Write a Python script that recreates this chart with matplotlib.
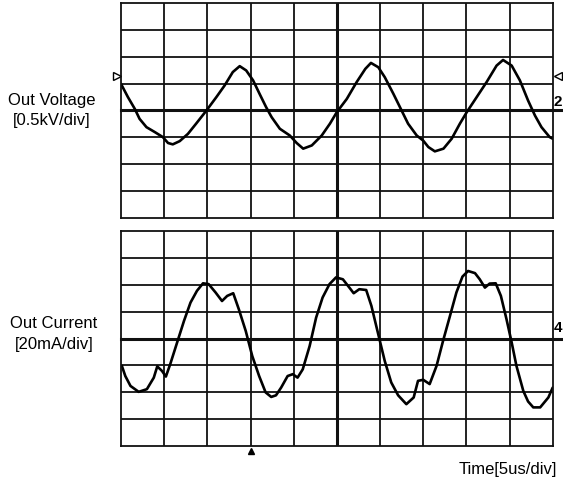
import matplotlib
matplotlib.use('Agg')
import matplotlib.pyplot as plt

plt.rcParams['font.family'] = ['Liberation Sans', 'DejaVu Sans']

# voltage trace in divisions (x: 0..10, y: -4..4)
volt_t = [0.0, 0.16, 0.32, 0.43, 0.59, 0.78, 0.97, 1.09, 1.2, 1.36, 1.55, 1.74, 1.98, 2.21,
          2.4, 2.59, 2.75, 2.9, 3.06, 3.21, 3.36, 3.49, 3.68, 3.91, 4.07, 4.22, 4.42, 4.65,
          4.84, 5.0, 5.23, 5.46, 5.66, 5.79, 5.96, 6.11, 6.31, 6.5, 6.65, 6.85, 7.0, 7.12,
          7.27, 7.47, 7.66, 7.85, 8.01, 8.24, 8.47, 8.7, 8.85, 9.05, 9.24, 9.43, 9.59, 9.74,
          9.93, 10.0]
volt_v = [0.99, 0.5, 0.06, -0.31, -0.62, -0.8, -0.99, -1.21, -1.26, -1.14, -0.87, -0.49, 0.0, 0.5,
          0.93, 1.43, 1.65, 1.49, 1.12, 0.62, 0.13, -0.25, -0.68, -0.93, -1.21, -1.42, -1.3, -0.93,
          -0.49, -0.06, 0.43, 1.06, 1.55, 1.77, 1.61, 1.24, 0.62, 0.0, -0.49, -0.93, -1.12, -1.36,
          -1.52, -1.42, -1.05, -0.49, -0.06, 0.5, 1.06, 1.67, 1.88, 1.67, 1.12, 0.37, -0.19, -0.62,
          -0.99, -1.05]

# current trace in divisions
curr_t = [0.02, 0.1, 0.22, 0.41, 0.6, 0.76, 0.84, 0.95, 1.04, 1.14, 1.3, 1.46, 1.61, 1.76,
          1.9, 2.03, 2.19, 2.34, 2.46, 2.6, 2.73, 2.89, 3.04, 3.2, 3.35, 3.48, 3.59, 3.71,
          3.86, 3.98, 4.09, 4.21, 4.37, 4.52, 4.67, 4.83, 4.98, 5.14, 5.29, 5.39, 5.52, 5.68,
          5.8, 5.95, 6.11, 6.26, 6.42, 6.61, 6.78, 6.88, 7.0, 7.15, 7.31, 7.46, 7.62, 7.77,
          7.91, 8.04, 8.2, 8.31, 8.43, 8.54, 8.68, 8.8, 8.93, 9.05, 9.16, 9.32, 9.43, 9.55,
          9.71, 9.9, 10.0]
curr_v = [-1.02, -1.4, -1.77, -1.99, -1.89, -1.46, -1.04, -1.21, -1.42, -0.96, -0.15, 0.66, 1.34, 1.78,
          2.06, 2.03, 1.72, 1.4, 1.59, 1.69, 1.09, 0.28, -0.65, -1.4, -2.01, -2.18, -2.12, -1.83,
          -1.4, -1.33, -1.46, -1.15, -0.28, 0.78, 1.53, 2.03, 2.28, 2.21, 1.9, 1.69, 1.84, 1.81,
          1.22, 0.22, -0.84, -1.64, -2.12, -2.45, -2.2, -1.58, -1.54, -1.7, -1.02, -0.09, 0.84, 1.72,
          2.31, 2.52, 2.44, 2.21, 1.9, 2.05, 2.06, 1.59, 0.72, -0.15, -1.02, -1.96, -2.35, -2.57,
          -2.57, -2.2, -1.83]

labels = [('Out Voltage', '[0.5kV/div]'), ('Out Current', '[20mA/div]')]
channels = ['2', '4']
time_label = 'Time[5us/div]'

fig = plt.figure(figsize=(5.63, 4.81), dpi=100)
ax1 = fig.add_axes([0.2149, 0.5447, 0.7668, 0.447])
ax2 = fig.add_axes([0.2149, 0.0713, 0.7668, 0.4457])


def scope(ax, t, v):
    ax.set_xlim(0, 10)
    ax.set_ylim(-4, 4)
    ax.set_xticks([])
    ax.set_yticks([])
    for s in ax.spines.values():
        s.set_linewidth(1.3)
        s.set_color('#111111')
    for x in range(1, 10):
        ax.axvline(x, color='#111111', lw=2.2 if x == 5 else 1.3)
    for y in range(-3, 4):
        if y == 0:
            ax.axhline(y, xmin=0, xmax=1.03, color='#111111', lw=2.2, clip_on=False)
        else:
            ax.axhline(y, color='#111111', lw=1.3)
    ax.plot(t, v, color='black', lw=1.9, solid_joinstyle='round', solid_capstyle='round')


scope(ax1, volt_t, volt_v)
scope(ax2, curr_t, curr_v)

# trigger / channel markers
ax1.plot([-0.1], [1.3], marker='>', ms=6, mfc='white', mec='black', mew=1, clip_on=False)
ax1.plot([10.13], [1.3], marker='<', ms=6, mfc='white', mec='black', mew=1, clip_on=False)
fig.text(562 / 563, 1 - 102 / 481, channels[0], fontsize=11, fontweight='bold', ha='right', va='center')
fig.text(562 / 563, 1 - 328 / 481, channels[1], fontsize=11, fontweight='bold', ha='right', va='center')
ax2.plot([3.0], [-4.2], marker='^', ms=5, color='black', clip_on=False)

fs = 12
fig.text(52 / 563, 1 - 101 / 481, labels[0][0], fontsize=fs, ha='center', va='center')
fig.text(52 / 563, 1 - 121 / 481, labels[0][1], fontsize=fs, ha='center', va='center')
fig.text(54 / 563, 1 - 324 / 481, labels[1][0], fontsize=fs, ha='center', va='center')
fig.text(54 / 563, 1 - 344 / 481, labels[1][1], fontsize=fs, ha='center', va='center')
fig.text(557 / 563, 1 - 470 / 481, time_label, fontsize=fs, ha='right', va='center')

fig.savefig('out.png', dpi=100, facecolor='white')
